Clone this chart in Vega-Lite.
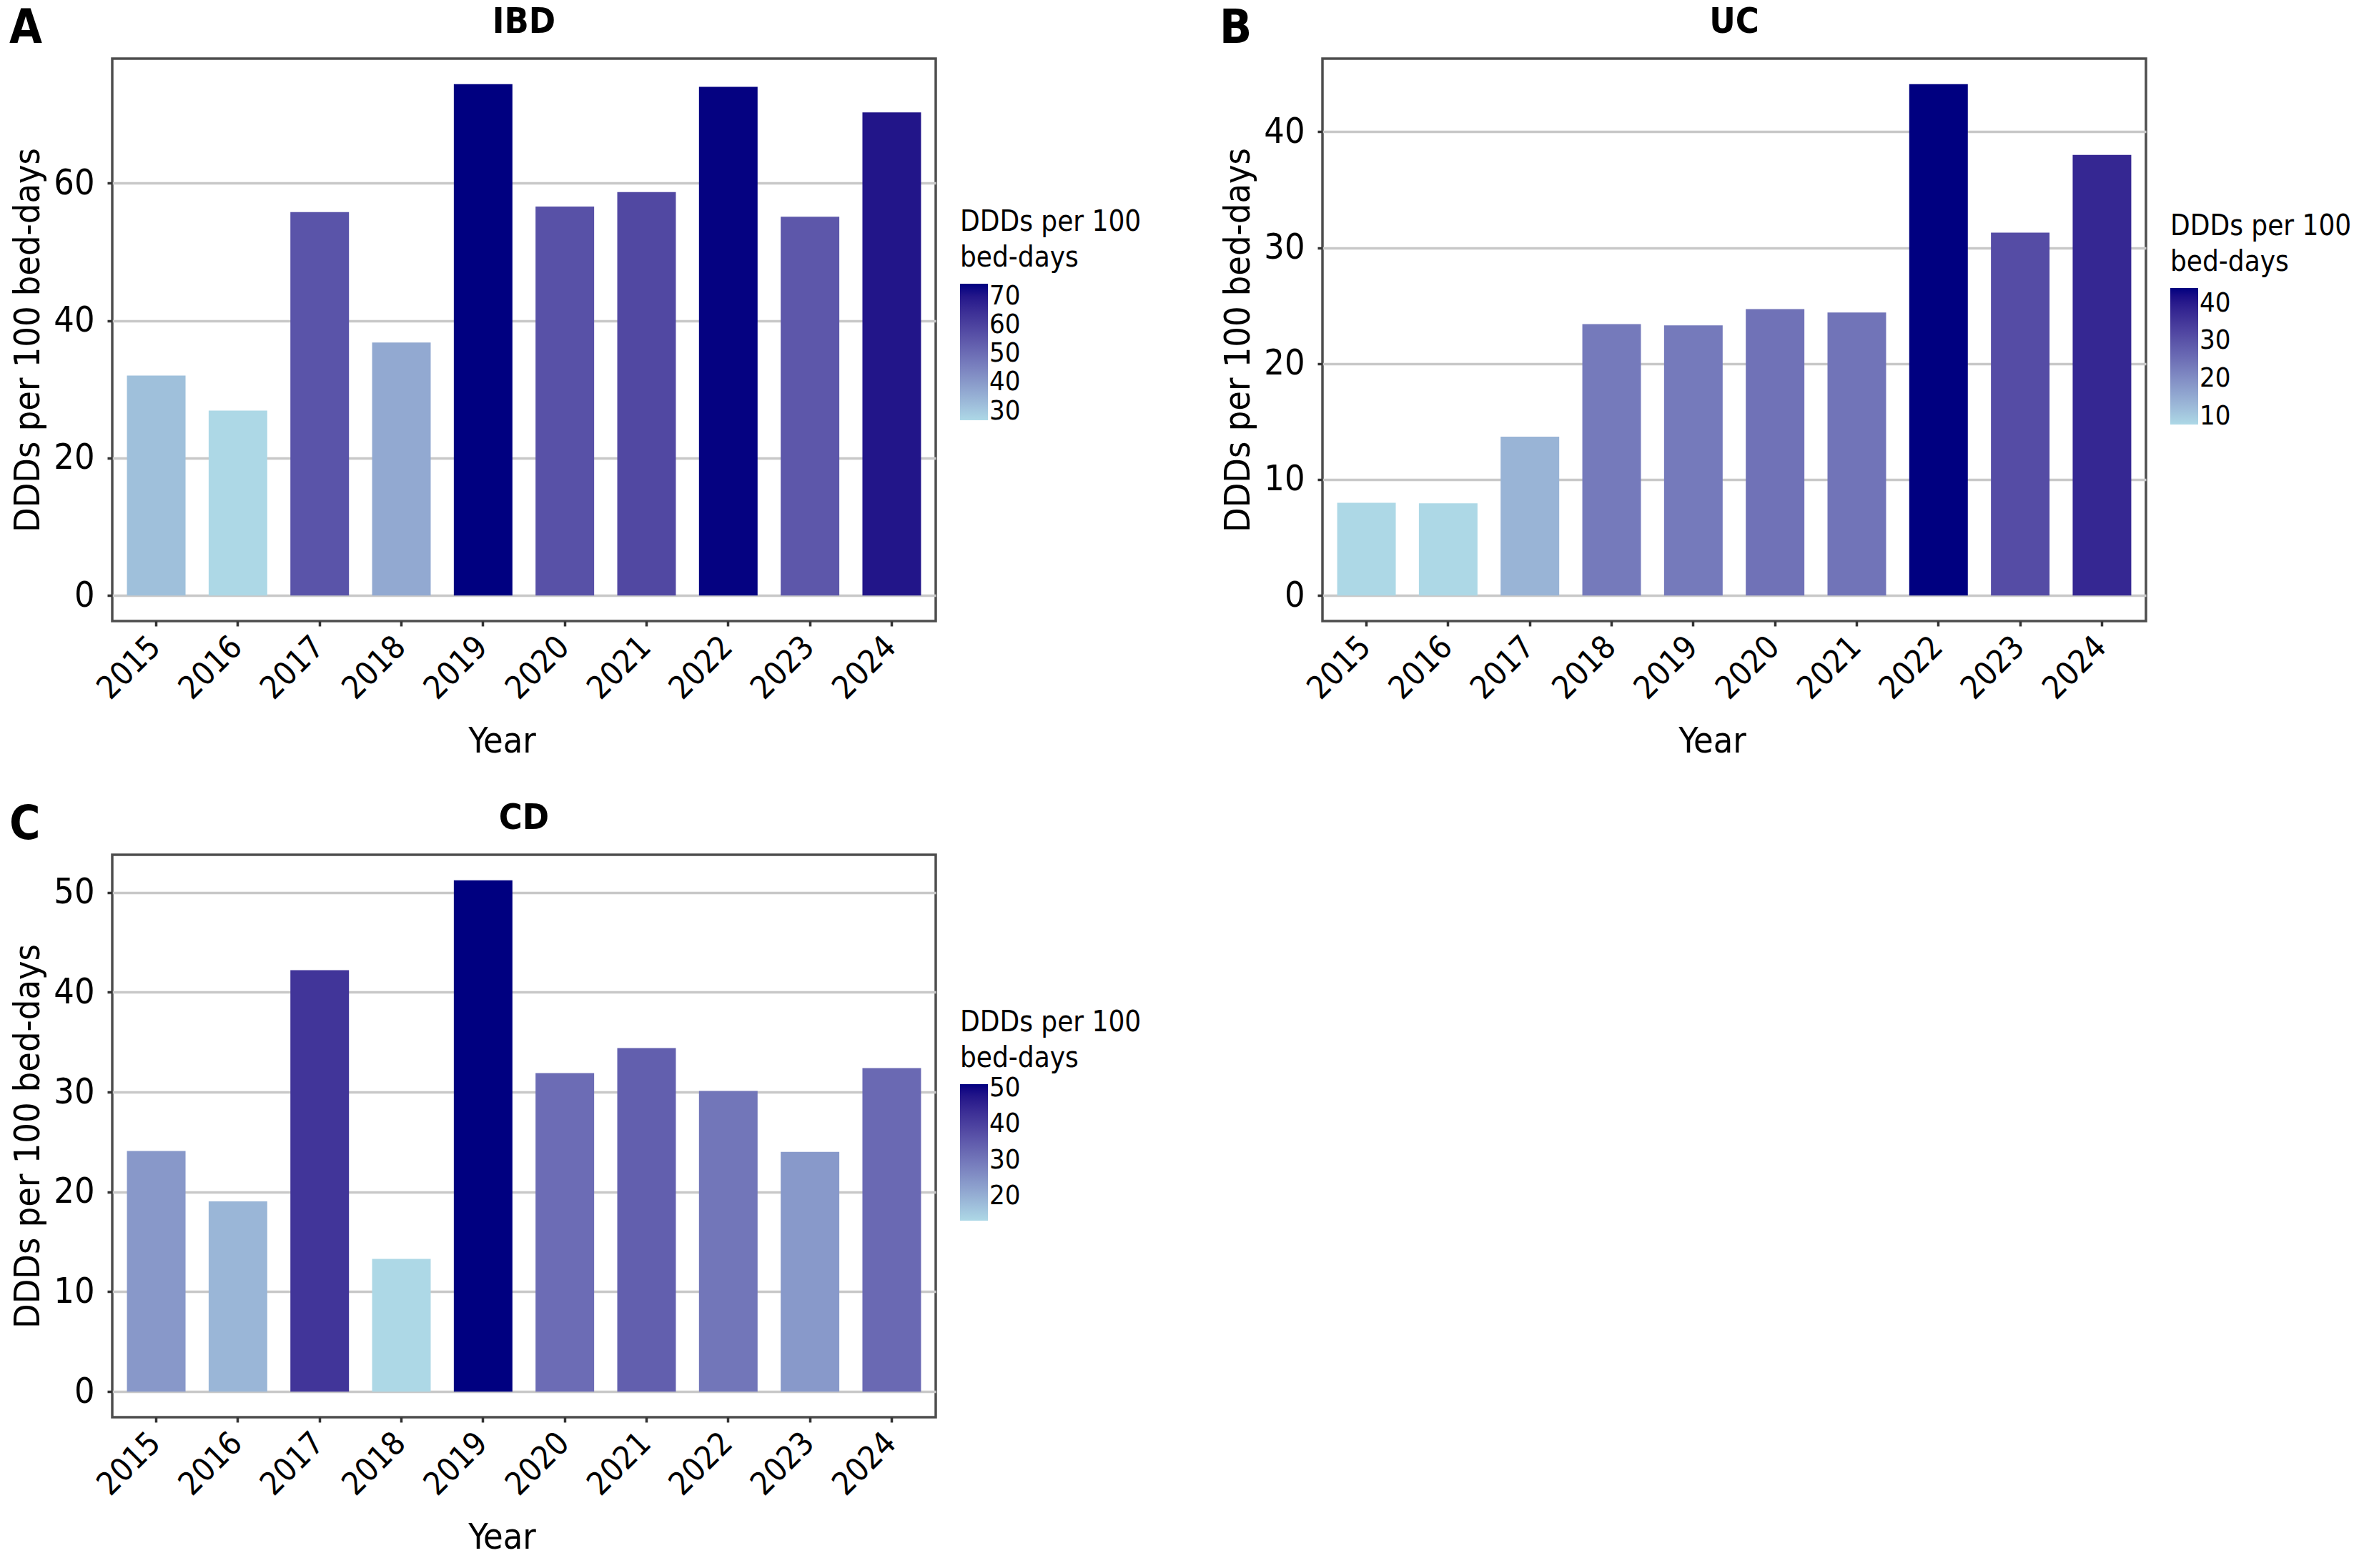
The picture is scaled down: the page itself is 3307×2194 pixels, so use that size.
{
  "$schema": "https://vega.github.io/schema/vega-lite/v6.json",
  "background": "white",
  "padding": {"left": 13, "top": 4, "right": 5, "bottom": 5},
  "config": {
    "font": "DejaVu Sans Condensed, DejaVu Sans",
    "view": {"stroke": "#4d4d4d", "strokeWidth": 3.5},
    "axis": {
      "labelFont": "DejaVu Sans Condensed, DejaVu Sans",
      "titleFont": "DejaVu Sans Condensed, DejaVu Sans",
      "labelColor": "black",
      "titleColor": "black",
      "labelFontSize": 50,
      "titleFontSize": 50,
      "titleFontWeight": "normal",
      "tickColor": "#333333",
      "tickWidth": 3.5,
      "tickSize": 7,
      "domain": false
    },
    "legend": {
      "titleFont": "DejaVu Sans Condensed, DejaVu Sans",
      "labelFont": "DejaVu Sans Condensed, DejaVu Sans",
      "titleFontSize": 40,
      "titleFontWeight": "normal",
      "titleColor": "black",
      "titleLineHeight": 50,
      "titlePadding": 16,
      "titleLimit": 2000,
      "labelFontSize": 38,
      "labelColor": "black",
      "labelOffset": 30,
      "labelOverlap": false,
      "gradientLength": 191,
      "gradientThickness": 39,
      "gradientStrokeWidth": 0
    },
    "title": {"font": "DejaVu Sans Condensed, DejaVu Sans", "color": "black"}
  },
  "datasets": {
    "ddd": [
      {"panel": "IBD", "year": "2015", "value": 32.0},
      {"panel": "IBD", "year": "2016", "value": 26.9},
      {"panel": "IBD", "year": "2017", "value": 55.8},
      {"panel": "IBD", "year": "2018", "value": 36.8},
      {"panel": "IBD", "year": "2019", "value": 74.4},
      {"panel": "IBD", "year": "2020", "value": 56.6},
      {"panel": "IBD", "year": "2021", "value": 58.7},
      {"panel": "IBD", "year": "2022", "value": 74.0},
      {"panel": "IBD", "year": "2023", "value": 55.1},
      {"panel": "IBD", "year": "2024", "value": 70.3},
      {"panel": "UC", "year": "2015", "value": 8.0},
      {"panel": "UC", "year": "2016", "value": 7.95},
      {"panel": "UC", "year": "2017", "value": 13.7},
      {"panel": "UC", "year": "2018", "value": 23.4},
      {"panel": "UC", "year": "2019", "value": 23.3},
      {"panel": "UC", "year": "2020", "value": 24.7},
      {"panel": "UC", "year": "2021", "value": 24.4},
      {"panel": "UC", "year": "2022", "value": 44.1},
      {"panel": "UC", "year": "2023", "value": 31.3},
      {"panel": "UC", "year": "2024", "value": 38.0},
      {"panel": "CD", "year": "2015", "value": 24.1},
      {"panel": "CD", "year": "2016", "value": 19.05},
      {"panel": "CD", "year": "2017", "value": 42.2},
      {"panel": "CD", "year": "2018", "value": 13.3},
      {"panel": "CD", "year": "2019", "value": 51.2},
      {"panel": "CD", "year": "2020", "value": 31.9},
      {"panel": "CD", "year": "2021", "value": 34.4},
      {"panel": "CD", "year": "2022", "value": 30.1},
      {"panel": "CD", "year": "2023", "value": 24.0},
      {"panel": "CD", "year": "2024", "value": 32.4}
    ]
  },
  "spacing": 53,
  "vconcat": [
    {
      "spacing": 109,
      "resolve": {"scale": {"fill": "independent"}},
      "hconcat": [
        {
          "title": {"text": "A", "anchor": "start", "frame": "bounds", "fontSize": 66, "fontWeight": "bold", "offset": 0, "dy": 70},
          "vconcat": [
            {
              "data": {"name": "ddd"},
              "transform": [{"filter": "datum.panel === 'IBD'"}],
              "title": {"text": "IBD", "anchor": "middle", "frame": "group", "fontSize": 50, "fontWeight": "bold", "offset": 26},
              "width": 1152,
              "height": 787,
              "mark": {"type": "bar"},
              "encoding": {
                "x": {"field": "year", "type": "ordinal", "title": "Year",
                  "scale": {"paddingInner": 0.283, "paddingOuter": 0.18},
                  "axis": {"labelAngle": -45, "labelAlign": "right", "labelBaseline": "top", "labelFontSize": 45, "labelPadding": 6, "labelOffset": -17, "titlePadding": 26, "titleX": 545, "grid": false}},
                "y": {"field": "value", "type": "quantitative", "title": "DDDs per 100 bed-days",
                  "scale": {"domain": [-3.72, 78.12], "nice": false, "zero": false},
                  "axis": {"values": [0, 20, 40, 60], "grid": true, "gridColor": "#c8c8c8", "gridWidth": 3.5, "labelPadding": 18, "titlePadding": 10}},
                "fill": {"field": "value", "type": "quantitative", "title": ["DDDs per 100", "bed-days"],
                  "scale": {"type": "linear", "domain": [26.9, 74.4], "range": ["#ADD8E6", "#000080"], "interpolate": "lab", "nice": false, "zero": false},
                  "legend": {"orient": "none", "legendX": 1186, "legendY": 209, "values": [30, 40, 50, 60, 70], "direction": "vertical"}}
              }
            }
          ]
        },
        {
          "title": {"text": "B", "anchor": "start", "frame": "bounds", "fontSize": 66, "fontWeight": "bold", "offset": 0, "dy": 70},
          "vconcat": [
            {
              "data": {"name": "ddd"},
              "transform": [{"filter": "datum.panel === 'UC'"}],
              "title": {"text": "UC", "anchor": "middle", "frame": "group", "fontSize": 50, "fontWeight": "bold", "offset": 26},
              "width": 1152,
              "height": 787,
              "mark": {"type": "bar"},
              "encoding": {
                "x": {"field": "year", "type": "ordinal", "title": "Year",
                  "scale": {"paddingInner": 0.283, "paddingOuter": 0.18},
                  "axis": {"labelAngle": -45, "labelAlign": "right", "labelBaseline": "top", "labelFontSize": 45, "labelPadding": 6, "labelOffset": -17, "titlePadding": 26, "titleX": 545, "grid": false}},
                "y": {"field": "value", "type": "quantitative", "title": "DDDs per 100 bed-days",
                  "scale": {"domain": [-2.205, 46.305], "nice": false, "zero": false},
                  "axis": {"values": [0, 10, 20, 30, 40], "grid": true, "gridColor": "#c8c8c8", "gridWidth": 3.5, "labelPadding": 18, "titlePadding": 10}},
                "fill": {"field": "value", "type": "quantitative", "title": ["DDDs per 100", "bed-days"],
                  "scale": {"type": "linear", "domain": [7.95, 44.1], "range": ["#ADD8E6", "#000080"], "interpolate": "lab", "nice": false, "zero": false},
                  "legend": {"orient": "none", "legendX": 1186, "legendY": 215, "values": [10, 20, 30, 40], "direction": "vertical"}}
              }
            }
          ]
        }
      ]
    },
    {
      "title": {"text": "C", "anchor": "start", "frame": "bounds", "fontSize": 66, "fontWeight": "bold", "offset": 0, "dy": 70},
      "vconcat": [
        {
          "data": {"name": "ddd"},
          "transform": [{"filter": "datum.panel === 'CD'"}],
          "title": {"text": "CD", "anchor": "middle", "frame": "group", "fontSize": 50, "fontWeight": "bold", "offset": 26},
          "width": 1152,
          "height": 787,
          "mark": {"type": "bar"},
          "encoding": {
            "x": {"field": "year", "type": "ordinal", "title": "Year",
              "scale": {"paddingInner": 0.283, "paddingOuter": 0.18},
              "axis": {"labelAngle": -45, "labelAlign": "right", "labelBaseline": "top", "labelFontSize": 45, "labelPadding": 6, "labelOffset": -17, "titlePadding": 26, "titleX": 545, "grid": false}},
            "y": {"field": "value", "type": "quantitative", "title": "DDDs per 100 bed-days",
              "scale": {"domain": [-2.56, 53.76], "nice": false, "zero": false},
              "axis": {"values": [0, 10, 20, 30, 40, 50], "grid": true, "gridColor": "#c8c8c8", "gridWidth": 3.5, "labelPadding": 18, "titlePadding": 10}},
            "fill": {"field": "value", "type": "quantitative", "title": ["DDDs per 100", "bed-days"],
              "scale": {"type": "linear", "domain": [13.3, 51.2], "range": ["#ADD8E6", "#000080"], "interpolate": "lab", "nice": false, "zero": false},
              "legend": {"orient": "none", "legendX": 1186, "legendY": 215, "values": [20, 30, 40, 50], "direction": "vertical"}}
          }
        }
      ]
    }
  ],
  "resolve": {"scale": {"fill": "independent"}}
}
